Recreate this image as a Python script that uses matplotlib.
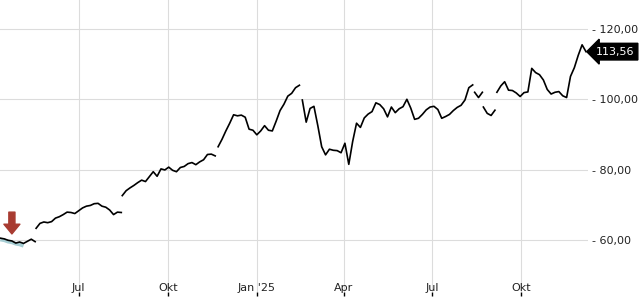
import matplotlib
matplotlib.use("Agg")
import matplotlib.pyplot as plt
import matplotlib.transforms as mtransforms
import pandas as pd

# Closing prices, read off roughly every 4 days; each list is one unbroken stretch
seg1_start, seg1 = "2024-04-11", [60.5, 60.3, 59.9, 59.7, 59.1, 59.4, 59.0, 59.6, 60.2, 59.5]
seg2_start, seg2 = "2024-05-18", [63.3, 64.7, 65.1, 64.9, 65.2, 66.2, 66.6, 67.2, 67.9, 67.8, 67.5, 68.3,
                                  69.1, 69.6, 69.8, 70.3, 70.4, 69.6, 69.3, 68.5, 67.2, 67.9, 67.8]
seg3_start, seg3 = "2024-08-15", [72.6, 74.0, 74.8, 75.5, 76.3, 77.0, 76.6, 78.0, 79.4, 78.1, 80.2, 79.9,
                                  80.7, 79.8, 79.4, 80.6, 80.9, 81.7, 82.0, 81.4, 82.2, 82.8, 84.3, 84.4, 83.9]
seg4_start, seg4 = "2024-11-22", [86.5, 88.6, 91.0, 93.2, 95.6, 95.3, 95.5, 94.9, 91.5, 91.2, 89.9, 91.0,
                                  92.5, 91.2, 91.0, 93.8, 96.8, 98.6, 100.9, 101.7, 103.3, 104.0]
seg5_start, seg5 = "2025-02-17", [99.8, 93.5, 97.4, 98.0, 92.5, 86.5, 84.2, 85.8, 85.5, 85.4, 84.8, 87.5,
                                  81.5, 88.0, 93.2, 92.0, 94.7, 95.8, 96.5, 99.0, 98.5, 97.3, 95.0, 97.8,
                                  96.2, 97.3, 97.9, 100.0, 97.5, 94.3, 94.6, 95.7, 97.0, 97.8, 98.0, 97.1,
                                  94.6, 95.1, 95.7, 96.8, 97.7, 98.3, 99.8, 103.3, 104.1]
seg6_start, seg6 = "2025-08-14", [102.0, 100.5, 102.0]
seg7_start, seg7 = "2025-08-23", [97.8, 96.0, 95.4, 96.9]
seg8_start, seg8 = "2025-09-06", [102.0, 103.8, 105.0, 102.6, 102.5, 101.8, 100.8, 101.9, 102.1, 108.8,
                                  107.6, 107.0, 105.5, 102.8, 101.5, 102.0, 102.2, 101.0, 100.5, 106.5,
                                  109.0, 112.5, 115.5, 113.56]

# light comparison band under the first stretch
band_start, band = "2024-04-11", [60.1, 59.9, 59.5, 59.3, 58.9, 58.7, 58.3]

# buy marker
buy_date, buy_level, buy_top = "2024-04-23", 61.7, 67.9

last_price = 113.56
last_label = "113,56"

xtick_dates = ["2024-07-01", "2024-10-01", "2025-01-01", "2025-04-01", "2025-07-01", "2025-10-01"]
xtick_labels = ["Jul", "Okt", "Jan '25", "Apr", "Jul", "Okt"]
ytick_values = [60, 80, 100, 120]

segments = [(seg1_start, seg1), (seg2_start, seg2), (seg3_start, seg3), (seg4_start, seg4),
            (seg5_start, seg5), (seg6_start, seg6), (seg7_start, seg7), (seg8_start, seg8)]

plt.rcParams['font.family'] = ['DejaVu Sans']
fig = plt.figure(figsize=(6.4, 3.0), dpi=100)
ax = fig.add_axes([0, 8 / 300, 588 / 640, 292 / 300])

ax.plot(pd.date_range(band_start, periods=len(band), freq="4D"), band,
        color="#a6cdd3", lw=2.6, solid_capstyle="butt", zorder=2)

for start, vals in segments:
    d = pd.date_range(start, periods=len(vals), freq="4D")
    ax.plot(d, vals, color="black", lw=1.2, zorder=3)

ax.annotate("", xy=(pd.Timestamp(buy_date), buy_level), xytext=(pd.Timestamp(buy_date), buy_top),
            arrowprops=dict(arrowstyle="simple,head_length=7,head_width=11.5,tail_width=4.4",
                            mutation_scale=1, color="#a83b31", shrinkA=0, shrinkB=0), zorder=4)

d0 = pd.Timestamp(seg1_start)
ax.set_xlim(d0 - pd.Timedelta(hours=7), d0 + pd.Timedelta(days=607.1))
ax.set_ylim(45.18, 128.25)

ax.set_xticks(pd.to_datetime(xtick_dates))
ax.set_xticklabels(xtick_labels)
ax.set_yticks(ytick_values)
ax.set_yticklabels([f"- {v:.2f}".replace(".", ",") for v in ytick_values])
ax.yaxis.tick_right()

ax.tick_params(axis="x", direction="out", length=3, width=1, color="black",
               pad=-9.5, labelsize=8, labelcolor="#222222")
ax.tick_params(axis="y", length=0, pad=3, labelsize=8, labelcolor="#222222")

ax.grid(True, color="#dcdcdc", lw=0.8)
ax.set_axisbelow(True)
for s in ax.spines.values():
    s.set_visible(False)

# last price tag on the right axis
trans = mtransforms.blended_transform_factory(ax.transAxes, ax.transData)
trans = trans + mtransforms.ScaledTranslation(8 / 100, 0, fig.dpi_scale_trans)
ax.text(1.0, last_price, last_label, transform=trans, ha="left", va="center",
        color="white", fontsize=8, clip_on=False, zorder=5,
        bbox=dict(boxstyle="larrow,pad=0.3", fc="black", ec="black"))

fig.savefig("out.png", dpi=100)
